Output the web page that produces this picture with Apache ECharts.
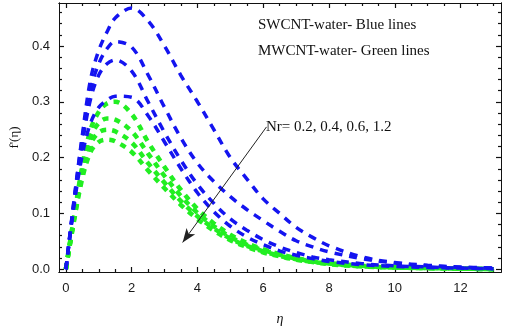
<!DOCTYPE html>
<html>
<head>
<meta charset="utf-8">
<script src="https://cdn.jsdelivr.net/npm/echarts@6/dist/echarts.min.js"></script>
<style>
  html, body { margin: 0; padding: 0; background: #fff; }
  #chart { width: 505px; height: 331px; }
</style>
</head>
<body>
<div id="chart"></div>
<script>
// eta grid shared by all curves
var eta = [0, 0.25, 0.5, 0.75, 1, 1.25, 1.5, 2, 2.5, 3, 3.5, 4, 4.5, 5, 5.5, 6, 6.5, 7, 7.5, 8, 9, 10, 11, 12, 13];

// SWCNT-water (blue), Nr = 0.2, 0.4, 0.6, 1.2
var blue1 = [0, 0.125, 0.24, 0.34, 0.392, 0.425, 0.45, 0.468, 0.445, 0.40, 0.347, 0.30, 0.25, 0.20, 0.162, 0.126, 0.10, 0.075, 0.057, 0.042, 0.022, 0.012, 0.007, 0.004, 0.002];
var blue2 = [0, 0.123, 0.235, 0.322, 0.368, 0.395, 0.408, 0.398, 0.348, 0.29, 0.235, 0.19, 0.157, 0.13, 0.107, 0.087, 0.068, 0.051, 0.04, 0.031, 0.019, 0.011, 0.006, 0.003, 0.002];
var blue3 = [0, 0.12, 0.225, 0.305, 0.348, 0.368, 0.375, 0.355, 0.30, 0.245, 0.195, 0.152, 0.118, 0.09, 0.07, 0.053, 0.04, 0.03, 0.022, 0.017, 0.01, 0.006, 0.004, 0.002, 0.001];
var blue4 = [0, 0.115, 0.205, 0.262, 0.29, 0.303, 0.31, 0.308, 0.275, 0.228, 0.18, 0.137, 0.103, 0.077, 0.058, 0.044, 0.033, 0.025, 0.019, 0.014, 0.008, 0.005, 0.003, 0.002, 0.001];

// MWCNT-water (green)
var green1 = [0, 0.095, 0.185, 0.25, 0.282, 0.297, 0.30, 0.278, 0.228, 0.183, 0.142, 0.108, 0.082, 0.062, 0.047, 0.036, 0.027, 0.02, 0.015, 0.011, 0.006, 0.004, 0.002, 0.001, 0];
var green2 = [0, 0.093, 0.178, 0.237, 0.262, 0.27, 0.268, 0.247, 0.207, 0.167, 0.131, 0.101, 0.077, 0.058, 0.044, 0.034, 0.026, 0.019, 0.014, 0.01, 0.006, 0.003, 0.002, 0.001, 0];
var green3 = [0, 0.09, 0.17, 0.224, 0.245, 0.25, 0.247, 0.227, 0.19, 0.155, 0.122, 0.095, 0.073, 0.055, 0.042, 0.032, 0.024, 0.018, 0.013, 0.01, 0.005, 0.003, 0.002, 0.001, 0];
var green4 = [0, 0.087, 0.163, 0.21, 0.228, 0.232, 0.229, 0.21, 0.177, 0.145, 0.115, 0.09, 0.069, 0.052, 0.04, 0.03, 0.023, 0.017, 0.013, 0.009, 0.005, 0.003, 0.002, 0.001, 0];

// ticks
var xMajor = [0, 2, 4, 6, 8, 10, 12];
var xMinor = [0.5, 1, 1.5, 2.5, 3, 3.5, 4.5, 5, 5.5, 6.5, 7, 7.5, 8.5, 9, 9.5, 10.5, 11, 11.5, 12.5, 13];
var yMajor = [0, 0.1, 0.2, 0.3, 0.4];
var yMinor = [0.02, 0.04, 0.06, 0.08, 0.12, 0.14, 0.16, 0.18, 0.22, 0.24, 0.26, 0.28, 0.32, 0.34, 0.36, 0.38, 0.42, 0.44, 0.46];

// arrow annotation (from label towards decreasing curves)
var arrowFrom = [6.1, 0.255];
var arrowTo = [3.55, 0.048];

function pairs(ys) {
    return ys.map(function (y, i) { return [eta[i], y]; });
}

function curve(name, ys, color, width, dash) {
    return {
        name: name,
        type: 'line',
        data: pairs(ys),
        smooth: 0.35,
        showSymbol: false,
        silent: true,
        lineStyle: { color: color, width: width, type: dash, cap: 'butt' }
    };
}

function xAx(pos, ticks, len, labels) {
    return {
        type: 'value', position: pos, min: -0.21, max: 13.23,
        axisLine: { show: true, onZero: false, lineStyle: { color: '#111', width: 1 } },
        axisTick: { show: true, inside: true, length: len, customValues: ticks, lineStyle: { color: '#111', width: 1.2 } },
        axisLabel: labels ? {
            show: true, customValues: ticks, margin: 10,
            color: '#1a1a1a', fontSize: 13, fontFamily: 'Liberation Sans'
        } : { show: false },
        splitLine: { show: false }
    };
}

function yAx(pos, ticks, len, labels) {
    return {
        type: 'value', position: pos, min: -0.005, max: 0.477,
        axisLine: { show: true, onZero: false, lineStyle: { color: '#111', width: 1 } },
        axisTick: { show: true, inside: true, length: len, customValues: ticks, lineStyle: { color: '#111', width: 1.2 } },
        axisLabel: labels ? {
            show: true, customValues: ticks, margin: 9,
            color: '#1a1a1a', fontSize: 13, fontFamily: 'Liberation Sans',
            formatter: function (v) { return v.toFixed(1); }
        } : { show: false },
        splitLine: { show: false }
    };
}

var chart = echarts.init(document.getElementById('chart'), null, { renderer: 'canvas' });

var xs = [xAx('bottom', xMajor, 5, true), xAx('bottom', xMinor, 3, false), xAx('top', xMajor, 5, false), xAx('top', xMinor, 3, false)];
xs[0].name = 'η';
xs[0].nameLocation = 'middle';
xs[0].nameGap = 40;
xs[0].nameTextStyle = { fontFamily: 'Liberation Serif', fontStyle: 'italic', fontSize: 14, color: '#111' };

var ys = [yAx('left', yMajor, 5, true), yAx('left', yMinor, 3, false), yAx('right', yMajor, 5, false), yAx('right', yMinor, 3, false)];
ys[0].name = "f'(η)";
ys[0].nameLocation = 'middle';
ys[0].nameGap = 36;
ys[0].nameRotate = 90;
ys[0].nameTextStyle = { fontFamily: 'Liberation Serif', fontSize: 13, color: '#111' };

var blueDash = [8, 7];
var greenDash = [6, 6];
var series = [
    curve('MWCNT Nr=0.2', green1, '#22ee22', 4.5, greenDash),
    curve('MWCNT Nr=0.4', green2, '#22ee22', 4.5, greenDash),
    curve('MWCNT Nr=0.6', green3, '#22ee22', 4.5, greenDash),
    curve('MWCNT Nr=1.2', green4, '#22ee22', 4.5, greenDash),
    curve('SWCNT Nr=0.2', blue1, '#1414f0', 3.5, blueDash),
    curve('SWCNT Nr=0.4', blue2, '#1414f0', 3.5, blueDash),
    curve('SWCNT Nr=0.6', blue3, '#1414f0', 3.5, blueDash),
    curve('SWCNT Nr=1.2', blue4, '#1414f0', 3.5, blueDash)
];
// arrow as a markLine on an empty helper series
series.push({
    type: 'line', data: [], silent: true,
    markLine: {
        silent: true,
        symbol: ['none', 'arrow'],
        symbolSize: [8, 14],
        label: { show: false },
        lineStyle: { color: '#222', width: 1, type: 'solid' },
        data: [[{ coord: arrowFrom }, { coord: arrowTo }]]
    }
});

chart.setOption({
    animation: false,
    backgroundColor: '#fff',
    grid: { left: 53, right: 4, top: 3, bottom: 53, containLabel: false },
    xAxis: xs,
    yAxis: ys,
    series: series,
    graphic: [
        { type: 'text', left: 258, top: 18, style: { text: 'SWCNT-water- Blue lines', font: '15px "Liberation Serif"', fill: '#111' } },
        { type: 'text', left: 258, top: 44, style: { text: 'MWCNT-water- Green lines', font: '15px "Liberation Serif"', fill: '#111' } },
        { type: 'text', left: 266, top: 120, style: { text: 'Nr= 0.2, 0.4, 0.6, 1.2', font: '15px "Liberation Serif"', fill: '#111' } }
    ]
});
</script>
</body>
</html>
